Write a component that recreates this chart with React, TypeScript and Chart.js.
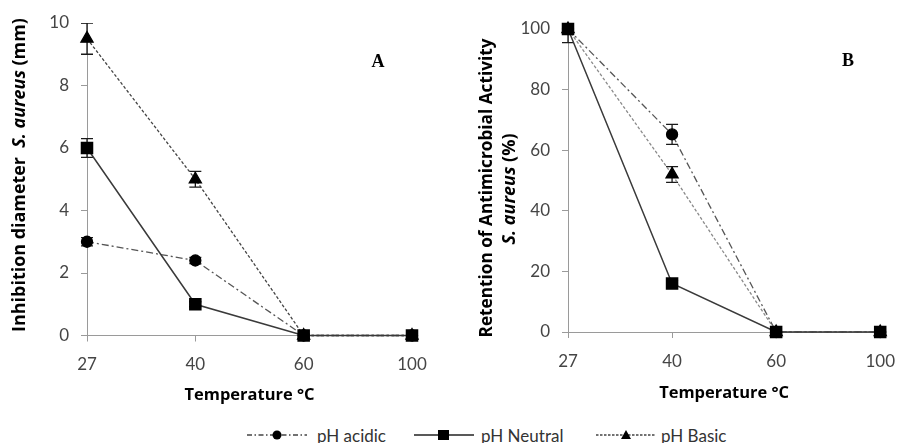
import React, { useEffect, useRef } from 'react';
import { Chart, registerables } from 'chart.js';

Chart.register(...registerables);

// ---- Data ----
const temperatures = ['27', '40', '60', '100'];

const aAcidic = [3, 2.4, 0, 0];
const aAcidicErr = [0.13, 0.1, 0, 0];
const aNeutral = [6, 1, 0, 0];
const aNeutralErr = [0.3, 0.08, 0, 0];
const aBasic = [9.5, 5, 0, 0];
const aBasicErr = [0.5, 0.25, 0, 0];

const bAcidic = [100, 65.2, 0, 0];
const bAcidicErr = [0, 3.3, 0, 0];
const bNeutral = [100, 16, 0, 0];
const bNeutralErr = [4.5, 1, 0, 0];
const bBasic = [100, 52, 0, 0];
const bBasicErr = [0, 2.6, 0, 0];

const seriesNames = ['pH acidic', 'pH Neutral', 'pH Basic'];

const aYMax = 10;
const aYStep = 2;
const bYMax = 100;
const bYStep = 20;

// ---- Styles ----
const AXIS = '#9a9a9a';
const TICK_COLOR = '#454545';
const FONT = 'Lato, "Open Sans", sans-serif';
const TITLE_FONT = '"Open Sans", Lato, sans-serif';
const CANVAS_H = 412;

type Seg = { text: string; italic?: boolean };
type YLine = { x: number; y: number; len: number; segs: Seg[] };

const errorBarPlugin = {
  id: 'errorBars',
  beforeDatasetsDraw(chart: any) {
    const ctx = chart.ctx;
    const ca = chart.chartArea;
    const yScale = chart.scales.y;
    ctx.save();
    ctx.beginPath();
    ctx.rect(ca.left - 20, ca.top, ca.right - ca.left + 40, ca.bottom - ca.top + 20);
    ctx.clip();
    ctx.strokeStyle = '#1a1a1a';
    ctx.lineWidth = 1.3;
    chart.data.datasets.forEach((ds: any, di: number) => {
      const meta = chart.getDatasetMeta(di);
      const errs: number[] = ds.errors || [];
      meta.data.forEach((pt: any, i: number) => {
        const e = errs[i];
        if (!e) return;
        const v = ds.data[i];
        const yTop = yScale.getPixelForValue(v + e);
        const yBot = yScale.getPixelForValue(v - e);
        const x = pt.x;
        ctx.beginPath();
        ctx.moveTo(x, yTop);
        ctx.lineTo(x, yBot);
        ctx.moveTo(x - 6, yTop);
        ctx.lineTo(x + 6, yTop);
        ctx.moveTo(x - 6, yBot);
        ctx.lineTo(x + 6, yBot);
        ctx.stroke();
      });
    });
    ctx.restore();
  },
};

function fitSize(ctx: any, segs: Seg[], len: number) {
  const base = 16;
  let total = 0;
  segs.forEach((s) => {
    ctx.font = `${s.italic ? 'italic ' : ''}bold ${base}px ${TITLE_FONT}`;
    total += ctx.measureText(s.text).width;
  });
  return Math.min(18, Math.max(13, (base * len) / total));
}

function makeTextPlugin(cfg: {
  xTitle: string;
  xTitleY: number;
  xTitleLen: number;
  yLines: YLine[];
  letter: string;
  letterX: number;
  letterY: number;
}) {
  return {
    id: 'panelText',
    afterDraw(chart: any) {
      const ctx = chart.ctx;
      const ca = chart.chartArea;
      ctx.save();
      ctx.fillStyle = '#000';
      ctx.textBaseline = 'middle';
      ctx.textAlign = 'center';
      const xs = fitSize(ctx, [{ text: cfg.xTitle }], cfg.xTitleLen);
      ctx.font = `bold ${xs}px ${TITLE_FONT}`;
      ctx.fillText(cfg.xTitle, (ca.left + ca.right) / 2, cfg.xTitleY);

      cfg.yLines.forEach((line) => {
        const size = fitSize(ctx, line.segs, line.len);
        ctx.save();
        ctx.translate(line.x, line.y);
        ctx.rotate(-Math.PI / 2);
        ctx.textAlign = 'left';
        const fonts = line.segs.map((s) => `${s.italic ? 'italic ' : ''}bold ${size}px ${TITLE_FONT}`);
        const widths = line.segs.map((s, i) => {
          ctx.font = fonts[i];
          return ctx.measureText(s.text).width;
        });
        const total = widths.reduce((a, b) => a + b, 0);
        let x = -total / 2;
        line.segs.forEach((s, i) => {
          ctx.font = fonts[i];
          ctx.fillText(s.text, x, 0);
          x += widths[i];
        });
        ctx.restore();
      });

      ctx.font = 'bold 18px "Liberation Serif", "Times New Roman", serif';
      ctx.textAlign = 'center';
      ctx.fillText(cfg.letter, cfg.letterX, cfg.letterY);
      ctx.restore();
    },
  };
}

function makeDatasets(acidic: number[], acidicErr: number[], neutral: number[], neutralErr: number[], basic: number[], basicErr: number[], basicColor: string) {
  return [
    {
      label: seriesNames[0],
      data: acidic,
      errors: acidicErr,
      borderColor: '#555',
      borderWidth: 1.3,
      borderDash: [7, 3, 2, 3],
      pointStyle: 'circle',
      pointRadius: 5.5,
      pointBackgroundColor: '#000',
      pointBorderColor: '#000',
      order: 2,
      clip: false,
    },
    {
      label: seriesNames[1],
      data: neutral,
      errors: neutralErr,
      borderColor: '#3a3a3a',
      borderWidth: 1.5,
      pointStyle: 'rect',
      pointRadius: 7.8,
      pointBackgroundColor: '#000',
      pointBorderColor: '#000',
      order: 0,
      clip: false,
    },
    {
      label: seriesNames[2],
      data: basic,
      errors: basicErr,
      borderColor: basicColor,
      borderWidth: 1.3,
      borderDash: [3, 2],
      pointStyle: 'triangle',
      pointRadius: 7,
      pointBackgroundColor: '#000',
      pointBorderColor: '#000',
      order: 1,
      clip: false,
    },
  ];
}

function makeOptions(yMax: number, yStep: number, yWidth: number, xHeight: number, padding: any) {
  return {
    responsive: false,
    maintainAspectRatio: false,
    animation: false,
    devicePixelRatio: 1,
    layout: { padding },
    plugins: { legend: { display: false }, tooltip: { enabled: false } },
    elements: { line: { tension: 0 } },
    scales: {
      x: {
        type: 'category',
        offset: false,
        grid: { drawOnChartArea: false, drawTicks: true, tickLength: 6, color: AXIS, offset: false },
        border: { display: true, color: AXIS, width: 1 },
        ticks: { color: TICK_COLOR, font: { family: FONT, size: 17 }, padding: 13, maxRotation: 0 },
        afterFit: (s: any) => { s.height = xHeight; },
      },
      y: {
        min: 0,
        max: yMax,
        grid: { drawOnChartArea: false, drawTicks: true, tickLength: 6, color: AXIS },
        border: { display: true, color: AXIS, width: 1 },
        ticks: { stepSize: yStep, color: TICK_COLOR, font: { family: FONT, size: 17 }, padding: 12 },
        afterFit: (s: any) => { s.width = yWidth; },
      },
    },
  };
}

function ChartA() {
  const ref = useRef<HTMLCanvasElement>(null);
  useEffect(() => {
    const chart = new Chart(ref.current as HTMLCanvasElement, {
      type: 'line',
      data: {
        labels: temperatures,
        datasets: makeDatasets(aAcidic, aAcidicErr, aNeutral, aNeutralErr, aBasic, aBasicErr, '#444') as any,
      },
      options: makeOptions(aYMax, aYStep, 87, CANVAS_H - 335.5, { left: 0, right: 48, top: 23, bottom: 0 }) as any,
      plugins: [
        errorBarPlugin,
        makeTextPlugin({
          xTitle: 'Temperature °C',
          xTitleY: 395,
          xTitleLen: 130,
          yLines: [
            { x: 20, y: 175, len: 314, segs: [{ text: 'Inhibition diameter  ' }, { text: 'S. aureus', italic: true }, { text: ' (mm)' }] },
          ],
          letter: 'A',
          letterX: 378,
          letterY: 62,
        }),
      ] as any,
    });
    return () => chart.destroy();
  }, []);
  return <canvas ref={ref} width={460} height={CANVAS_H} style={{ position: 'absolute', left: 0, top: 0, width: 460, height: CANVAS_H }} />;
}

function ChartB() {
  const ref = useRef<HTMLCanvasElement>(null);
  useEffect(() => {
    const chart = new Chart(ref.current as HTMLCanvasElement, {
      type: 'line',
      data: {
        labels: temperatures,
        datasets: makeDatasets(bAcidic, bAcidicErr, bNeutral, bNeutralErr, bBasic, bBasicErr, '#8a8a8a') as any,
      },
      options: makeOptions(bYMax, bYStep, 108, CANVAS_H - 332, { left: 0, right: 16, top: 29, bottom: 0 }) as any,
      plugins: [
        errorBarPlugin,
        makeTextPlugin({
          xTitle: 'Temperature °C',
          xTitleY: 393,
          xTitleLen: 130,
          yLines: [
            { x: 27, y: 188, len: 299, segs: [{ text: 'Retention of Antimicrobial Activity' }] },
            { x: 50, y: 189, len: 112, segs: [{ text: 'S. aureus', italic: true }, { text: ' (%)' }] },
          ],
          letter: 'B',
          letterX: 388,
          letterY: 61,
        }),
      ] as any,
    });
    return () => chart.destroy();
  }, []);
  return <canvas ref={ref} width={448} height={CANVAS_H} style={{ position: 'absolute', left: 460, top: 0, width: 448, height: CANVAS_H }} />;
}

function LegendSample({ kind }: { kind: number }) {
  const dash = kind === 0 ? '5 2.5 1.5 2.5' : kind === 2 ? '2.5 1.5' : undefined;
  const color = kind === 1 ? '#222' : '#444';
  return (
    <svg width={60} height={14} style={{ display: 'block' }}>
      <line x1={0} y1={7} x2={60} y2={7} stroke={color} strokeWidth={1.3} strokeDasharray={dash} />
      {kind === 0 && <circle cx={30} cy={7} r={4.5} fill="#000" />}
      {kind === 1 && <rect x={24} y={2} width={11} height={10} fill="#000" />}
      {kind === 2 && <polygon points="30,2 35,11 25,11" fill="#000" />}
    </svg>
  );
}

function Legend() {
  const items = [
    { left: 247, textGap: 10 },
    { left: 414, textGap: 7 },
    { left: 596, textGap: 5 },
  ];
  return (
    <>
      {seriesNames.map((name, i) => (
        <div
          key={name}
          style={{
            position: 'absolute',
            left: items[i].left,
            top: 427,
            height: 16,
            display: 'flex',
            alignItems: 'center',
            gap: items[i].textGap,
            fontFamily: FONT,
            fontSize: 17,
            color: '#333',
            whiteSpace: 'nowrap',
          }}
        >
          <LegendSample kind={i} />
          <span>{name}</span>
        </div>
      ))}
    </>
  );
}

export default function App() {
  return (
    <div style={{ position: 'absolute', left: 0, top: 0, width: 908, height: 443, background: '#fff', overflow: 'hidden' }}>
      <ChartA />
      <ChartB />
      <Legend />
    </div>
  );
}
